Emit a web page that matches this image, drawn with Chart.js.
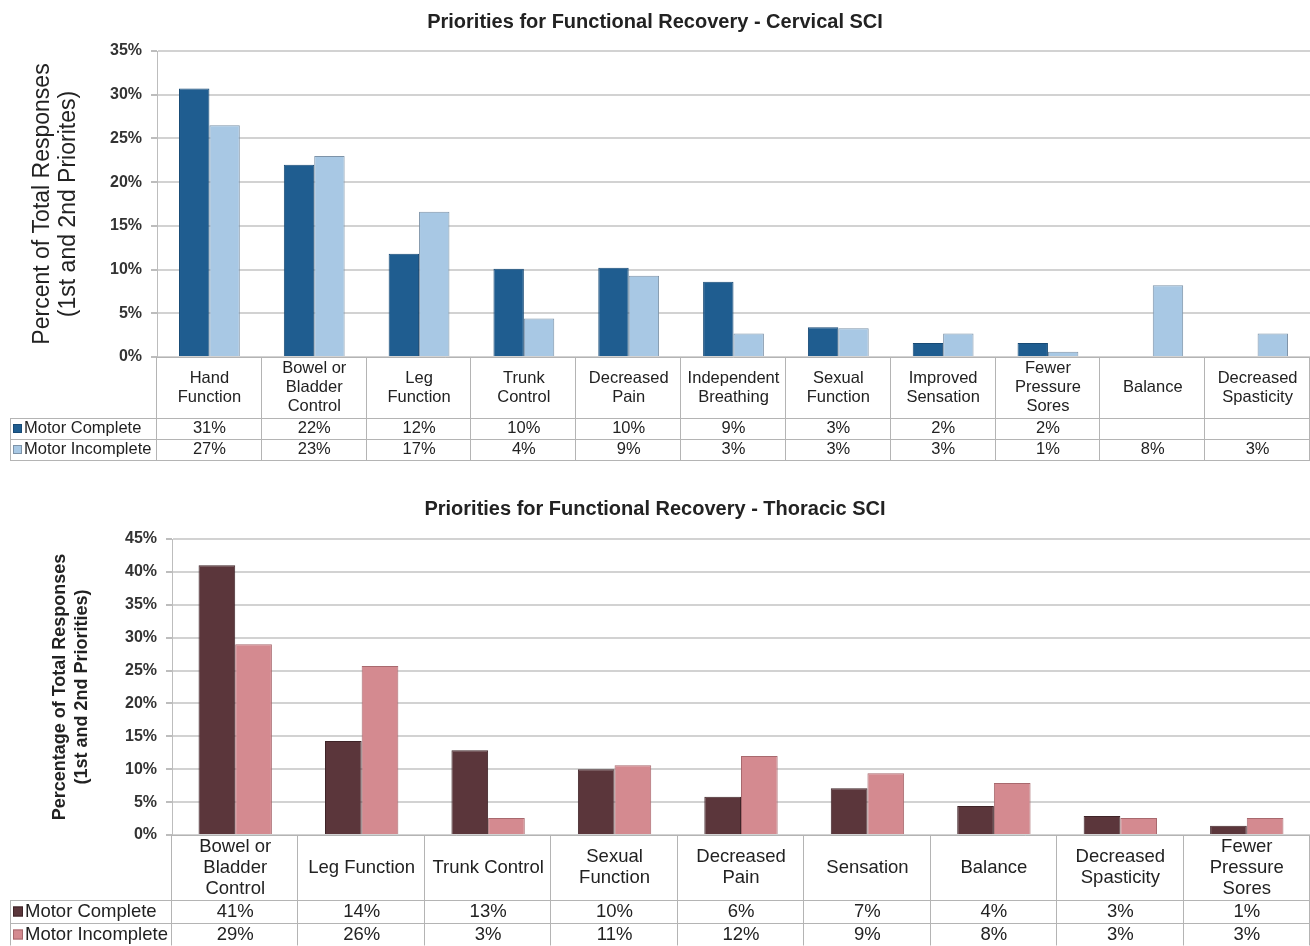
<!DOCTYPE html>
<html>
<head>
<meta charset="utf-8">
<script src="https://cdn.jsdelivr.net/npm/chart.js@4.4.1/dist/chart.umd.min.js"></script>
<style>
  body { margin: 0; background: #fff; }
  canvas { display: block; }
</style>
</head>
<body>
<canvas id="cervical-chart" width="1310" height="470"></canvas>
<canvas id="thoracic-chart" width="1310" height="476"></canvas>

<script>
// Cervical SCI
var cervicalCategories = [
  ['Hand', 'Function'], ['Bowel or', 'Bladder', 'Control'], ['Leg', 'Function'],
  ['Trunk', 'Control'], ['Decreased', 'Pain'], ['Independent', 'Breathing'],
  ['Sexual', 'Function'], ['Improved', 'Sensation'], ['Fewer', 'Pressure', 'Sores'],
  ['Balance'], ['Decreased', 'Spasticity']
];
var cervicalComplete   = [30.7, 22.0, 11.8, 10.1, 10.2, 8.6, 3.4, 1.6, 1.6, null, null];
var cervicalIncomplete = [26.5, 23.0, 16.6, 4.4, 9.3, 2.7, 3.3, 2.7, 0.6, 8.2, 2.7];
var cervicalTicks = { max: 35, step: 5 };

// Thoracic SCI
var thoracicCategories = [
  ['Bowel or', 'Bladder', 'Control'], ['Leg Function'], ['Trunk Control'],
  ['Sexual', 'Function'], ['Decreased', 'Pain'], ['Sensation'], ['Balance'],
  ['Decreased', 'Spasticity'], ['Fewer', 'Pressure', 'Sores']
];
var thoracicComplete   = [41.0, 14.3, 12.9, 10.0, 5.8, 7.1, 4.4, 2.9, 1.4];
var thoracicIncomplete = [29.0, 25.7, 2.6, 10.6, 12.0, 9.4, 7.9, 2.6, 2.6];
var thoracicTicks = { max: 45, step: 5 };

Chart.defaults.font.family = "'Liberation Sans', Arial, sans-serif";
Chart.defaults.color = '#222';

// draws the data table under the plot, lined up with the x scale
var dataTable = {
  id: 'dataTable',
  afterDraw: function (chart, args, opts) {
    var ctx = chart.ctx, area = chart.chartArea, x = chart.scales.x;
    var n = chart.data.labels.length;
    var w = (area.right - area.left) / n;
    var rowTop = area.bottom + opts.labelHeight;
    var bottom = Math.min(rowTop + opts.rowHeight * 2, chart.height - 0.5);
    ctx.save();
    ctx.strokeStyle = '#b4b4b4';
    ctx.lineWidth = 1;
    ctx.beginPath();
    ctx.moveTo(area.left, area.bottom + 0.5); ctx.lineTo(area.right, area.bottom + 0.5);
    for (var r = 0; r <= 2; r++) {
      var yy = Math.round(Math.min(rowTop + r * opts.rowHeight, bottom)) + 0.5;
      ctx.moveTo(opts.legendLeft, yy); ctx.lineTo(area.right, yy);
    }
    for (var i = 0; i <= n; i++) {
      var xx = Math.round(area.left + i * w) - 0.5;
      ctx.moveTo(xx, area.bottom); ctx.lineTo(xx, bottom);
    }
    ctx.moveTo(opts.legendLeft + 0.5, rowTop); ctx.lineTo(opts.legendLeft + 0.5, bottom);
    ctx.stroke();

    ctx.fillStyle = '#222';
    ctx.textAlign = 'center';
    ctx.textBaseline = 'middle';
    ctx.font = opts.fontSize + "px 'Liberation Sans', Arial, sans-serif";
    // category names
    chart.data.labels.forEach(function (lab, i) {
      var cx = x.getPixelForValue(i);
      var y0 = area.bottom + opts.labelHeight / 2 - (lab.length - 1) * opts.lineHeight / 2;
      lab.forEach(function (line, k) {
        ctx.fillText(line, cx, y0 + k * opts.lineHeight);
      });
    });
    // series rows
    chart.data.datasets.forEach(function (ds, r) {
      var cy = rowTop + opts.rowHeight * (r + 0.5);
      ctx.textAlign = 'center';
      ctx.fillStyle = '#222';
      ds.data.forEach(function (v, i) {
        if (v === null) return;
        ctx.fillText(Math.round(v) + '%', x.getPixelForValue(i), cy);
      });
      var s = opts.swatch;
      ctx.fillStyle = ds.backgroundColor;
      ctx.fillRect(opts.legendLeft + 3, cy - s / 2, s, s);
      ctx.strokeStyle = ds.borderColor;
      ctx.strokeRect(opts.legendLeft + 3.5, cy - s / 2 + 0.5, s - 1, s - 1);
      ctx.fillStyle = '#222';
      ctx.textAlign = 'left';
      ctx.fillText(ds.label, opts.legendLeft + s + 5, cy);
    });
    ctx.restore();
  }
};

function makeChart(id, cfg) {
  var ctx = document.getElementById(id);
  return new Chart(ctx, {
    type: 'bar',
    data: {
      labels: cfg.categories,
      datasets: [{
        label: 'Motor Complete',
        data: cfg.complete,
        backgroundColor: cfg.colors[0],
        borderColor: cfg.borders[0],
        borderWidth: 1
      }, {
        label: 'Motor Incomplete',
        data: cfg.incomplete,
        backgroundColor: cfg.colors[1],
        borderColor: cfg.borders[1],
        borderWidth: 1
      }]
    },
    plugins: [dataTable],
    options: {
      responsive: false,
      animation: false,
      layout: { padding: { left: 0, right: 0, top: 0, bottom: cfg.bottomPad } },
      datasets: { bar: { categoryPercentage: 0.58, barPercentage: 1.0 } },
      plugins: {
        legend: { display: false },
        tooltip: { enabled: false },
        title: {
          display: true,
          text: cfg.title,
          color: '#222',
          font: { size: 20, weight: 'bold', lineHeight: 1.2 },
          padding: cfg.titlePad
        },
        dataTable: cfg.table
      },
      scales: {
        x: { display: false },
        y: {
          min: 0,
          max: cfg.ticks.max,
          afterFit: function (scale) { scale.width = cfg.axisWidth; },
          ticks: {
            stepSize: cfg.ticks.step,
            padding: 9,
            color: '#333',
            font: { size: 16, weight: 'bold' },
            callback: function (v) { return v + '%'; }
          },
          grid: { color: '#d2d2d2', lineWidth: 2, tickLength: 6, tickColor: '#bdbdbd' },
          border: { color: '#bdbdbd', width: 1 },
          title: {
            display: true,
            text: cfg.axisTitle,
            color: '#222',
            font: cfg.axisTitleFont,
            padding: { top: cfg.axisTitleTop, bottom: 0 }
          }
        }
      }
    }
  });
}

makeChart('cervical-chart', {
  title: 'Priorities for Functional Recovery - Cervical SCI',
  categories: cervicalCategories,
  complete: cervicalComplete,
  incomplete: cervicalIncomplete,
  ticks: cervicalTicks,
  colors: ['#1f5d90', '#a8c8e4'],
  borders: ['#174a75', '#7d93a8'],
  axisTitle: ['Percent of Total Responses', '(1st and 2nd Priorites)'],
  axisTitleFont: { size: 23, weight: 'normal', lineHeight: 1.15 },
  axisTitleTop: 29,
  axisWidth: 157,
  titlePad: { top: 10, bottom: 17 },
  bottomPad: 113,
  table: { labelHeight: 61, rowHeight: 21, lineHeight: 19, fontSize: 16.5, legendLeft: 10, swatch: 9 }
});

makeChart('thoracic-chart', {
  title: 'Priorities for Functional Recovery - Thoracic SCI',
  categories: thoracicCategories,
  complete: thoracicComplete,
  incomplete: thoracicIncomplete,
  ticks: thoracicTicks,
  colors: ['#5b363b', '#d48a90'],
  borders: ['#3f2428', '#a8696e'],
  axisTitle: ['Percentage of Total Responses', '(1st and 2nd Priorities)'],
  axisTitleFont: { size: 18, weight: 'bold', lineHeight: 1.22 },
  axisTitleTop: 49,
  axisWidth: 172,
  titlePad: { top: 27, bottom: 18 },
  bottomPad: 111,
  table: { labelHeight: 65, rowHeight: 23, lineHeight: 21, fontSize: 18.5, legendLeft: 10, swatch: 10 }
});
</script>
</body>
</html>
